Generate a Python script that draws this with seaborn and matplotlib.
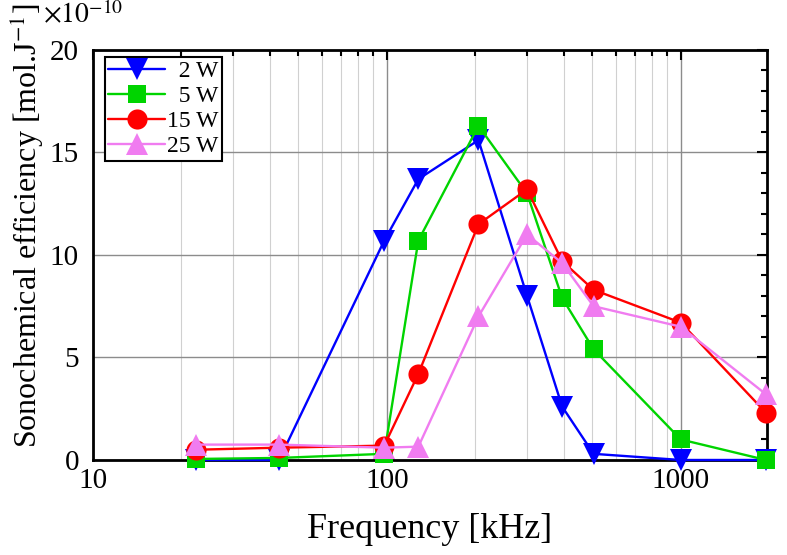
import matplotlib
matplotlib.use("Agg")
import matplotlib.pyplot as plt
import seaborn as sns
import pandas as pd
from matplotlib.ticker import LogLocator, FixedLocator, MultipleLocator, NullFormatter

freq = [22.5, 43, 98, 128, 205, 300, 395, 505, 1000, 1950]
w2 = [0.0, 0.0, 10.7, 13.7, 15.6, 8.0, 2.6, 0.3, 0.0, 0.0]
w5 = [0.05, 0.1, 0.3, 10.7, 16.3, 13.0, 7.9, 5.4, 1.0, 0.0]
w15 = [0.5, 0.6, 0.7, 4.2, 11.5, 13.2, 9.7, 8.3, 6.7, 2.3]
w25 = [0.75, 0.75, 0.6, 0.65, 7.0, 11.0, 9.6, 7.5, 6.5, 3.2]
labels = ["  2 W", "  5 W", "15 W", "25 W"]

sns.set_style("white")
plt.rcParams["font.family"] = ["Liberation Serif", "DejaVu Serif"]
plt.rcParams["mathtext.fontset"] = "stix"
plt.rcParams["text.color"] = "black"
plt.rcParams["axes.labelcolor"] = "black"

fig = plt.figure(figsize=(7.87, 5.55), dpi=100)
ax = fig.add_axes([0.118, 0.1712, 0.9746 - 0.118, 0.91 - 0.1712])

series = [
    (w2, "#0000ff", "v", 16),
    (w5, "#00d400", "s", 13),
    (w15, "#ff0000", "o", 14.5),
    (w25, "#f07cf0", "^", 16),
]
for (vals, col, mk, ms), lab in zip(series, labels):
    df = pd.DataFrame({"f": freq, "y": vals})
    sns.lineplot(data=df, x="f", y="y", ax=ax, color=col, marker=mk,
                 markersize=ms, markeredgewidth=0, linewidth=1.7,
                 label=lab, clip_on=False, zorder=3)

ax.set_xscale("log")
ax.set_xlim(10, 1965)
ax.set_ylim(0, 20)

ax.xaxis.set_major_locator(FixedLocator([10, 100, 1000]))
ax.xaxis.set_major_formatter(plt.FuncFormatter(lambda v, p: f"{int(v)}"))
ax.xaxis.set_minor_locator(LogLocator(base=10, subs=range(2, 10), numticks=20))
ax.xaxis.set_minor_formatter(NullFormatter())
ax.yaxis.set_major_locator(MultipleLocator(5))
ax.yaxis.set_minor_locator(MultipleLocator(1))

ax.grid(True, which="major", color="#8c8c8c", linewidth=1.0)
ax.grid(True, which="minor", axis="x", color="#d0d0d0", linewidth=0.8)
ax.set_axisbelow(True)

ax.tick_params(which="both", direction="in", top=True, right=True,
               labelsize=21, width=1.5, colors="black", labelcolor="black")
ax.tick_params(which="major", length=7)
ax.tick_params(which="minor", length=4)
ax.tick_params(axis="x", which="major", pad=6)
ax.tick_params(axis="y", which="major", pad=10)
for s in ax.spines.values():
    s.set_visible(True)
    s.set_color("black")
    s.set_linewidth(2)

ax.set_xlabel("Frequency [kHz]", fontsize=26, va="top")
ax.xaxis.set_label_coords(0.5, -0.13)
ax.set_ylabel(r"Sonochemical efficiency [mol.J$^{-1}$]", fontsize=23)
ax.yaxis.set_label_coords(-0.07, 0.571)
fig.text(0.055, 0.998, r"$\times10^{-10}$", fontsize=20, ha="left", va="top")

leg = ax.legend(loc="upper left", bbox_to_anchor=(0.0175, 0.983),
                borderaxespad=0, fontsize=17, frameon=True, fancybox=False,
                edgecolor="black", framealpha=1, handlelength=2.4,
                labelspacing=0.15, borderpad=0.15, handletextpad=0.1)
leg.get_frame().set_linewidth(1.5)

fig.savefig("out.png", dpi=100)
